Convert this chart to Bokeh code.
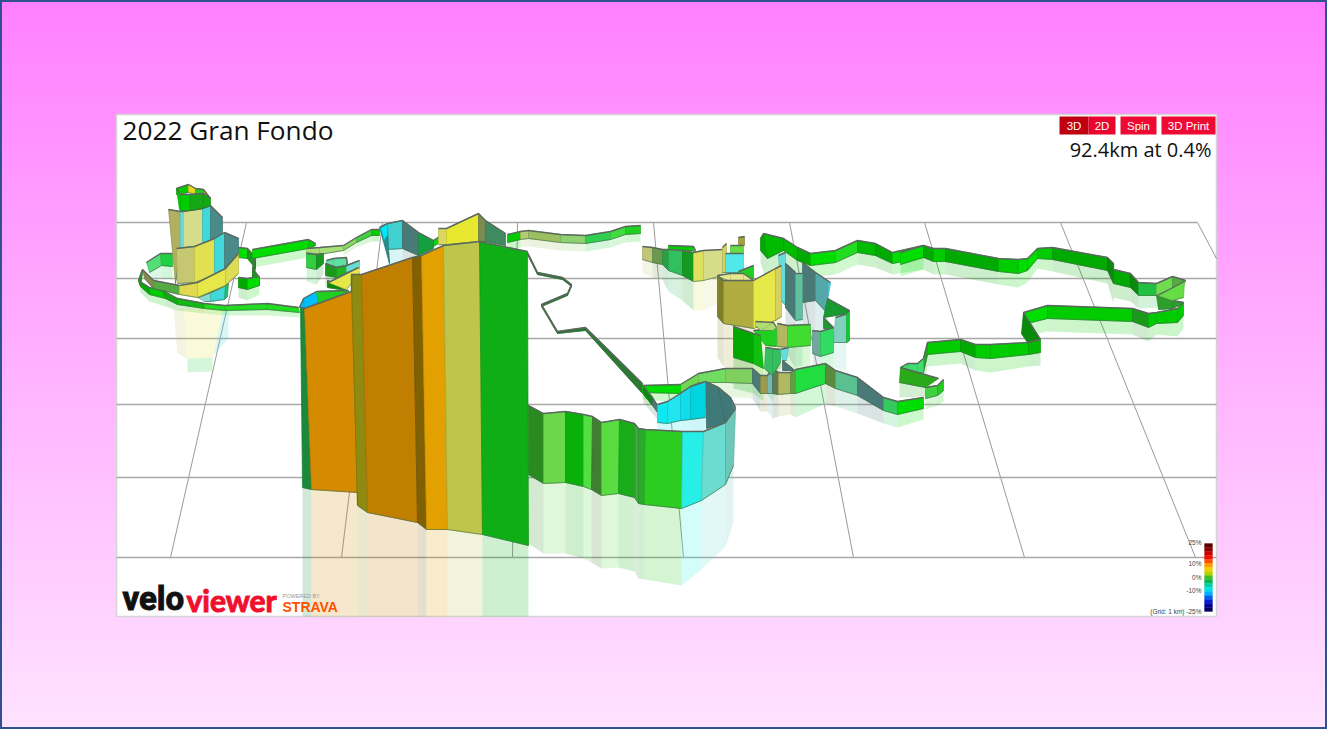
from bokeh.plotting import figure
from bokeh.embed import file_html
from bokeh.resources import INLINE
from bokeh.core.properties import value

TITLE = "2022 Gran Fondo"
READOUT = "92.4km at 0.4%"
BUTTONS = ["3D", "2D", "Spin", "3D Print"]
LEGEND_LABELS = ["25%", "10%", "0%", "-10%", "(Grid: 1 km) -25%"]

# colours by gradient
GB, G, GD, GDD = "#00dd00", "#00cc00", "#00aa00", "#1a9a1a"
GL, GP, MINT, TEAL = "#5ad83a", "#a8e07a", "#3cc070", "#4a7a78"
TEALG, CY, CYL, CYP = "#408a60", "#18e8ee", "#66ddd0", "#55a8a8"
YE, YEP, KH, OL = "#e6e84a", "#d5dd8a", "#bec54a", "#8f8a10"
OR, ORD, BR, AM = "#d48b00", "#c07f00", "#806000", "#e2a100"

# grid of the 3D floor
grid_y = [222, 278, 338, 404, 477, 557]
grid_x0 = [116, 116, 116, 116, 116, 116]
grid_x1 = [1197, 1216, 1216, 1216, 1216, 1216]
slant_x_top = [246, 382, 517, 653, 789, 924, 1060, 1197]
slant_y_top = [222, 222, 222, 222, 222, 222, 222, 222]
slant_x_bot = [170, 341, 512, 683, 853, 1024, 1195, 1216]
slant_y_bot = [557, 557, 557, 557, 557, 557, 557, 258]

# ---- ribbon sections of the route: top edge, bottom edge, panel colours ----
up_x = [760, 763, 783, 797, 810, 835, 857, 875, 892, 923]
up_t = [238, 233, 238, 247, 253, 250, 240, 243, 252, 245]
up_bx = [760, 767, 783, 797, 810, 835, 857, 875, 892, 923]
up_b = [250, 258, 250, 260, 265, 262, 252, 255, 263, 257]
up_c = [GD, "#00bb00", "#00bb00", GD, GB, "#20dd20", "#00bb00", GD, GB]

far_x = [900, 923, 933, 945, 998, 1018, 1027, 1037, 1052, 1107]
far_t = [252, 245, 248, 248, 258, 259, 258, 248, 247, 257]
far_b = [264, 257, 261, 261, 271, 273, 270, 258, 259, 270]
far_c = [GB, GD, G, GD, G, GB, GB, G, GD]

end_x = [1107, 1113, 1113, 1130, 1138, 1156, 1172, 1185]
end_t = [257, 263, 269, 273, 282, 283, 276, 280]
end_b = [270, 283, 283, 287, 295, 295, 288, 281]
end_c = ["#0a8a0a", GD, GD, "#0a8a0a", "#20c040", "#70dd50", "#55aa44"]

wedge_x = [1157, 1184]
wedge_t = [295, 281]
wedge_bx = [1172, 1183]
wedge_b = [300, 297]
wedge_c = ["#66dd44"]

fold_x = [1156, 1172, 1183]
fold_t = [295, 300, 302]
fold_bx = [1158, 1172, 1183]
fold_b = [309, 308, 303]
fold_c = ["#2aa02a", "#2aa02a"]

ret_x = [1023, 1047, 1132, 1148, 1156, 1177, 1183]
ret_t = [312, 305, 308, 313, 312, 308, 302]
ret_b = [324, 318, 321, 327, 323, 322, 315]
ret_c = [GB, G, GDD, G, G, G]

drop_x = [1023, 1040]
drop_t = [312, 339]
drop_bx = [1021, 1027]
drop_b = [333, 342]
drop_c = ["#0a8a0a"]

low_x = [923, 927, 960, 975, 990, 1028, 1040]
low_t = [358, 342, 339, 344, 344, 342, 339]
low_b = [372, 354, 351, 357, 358, 354, 352]
low_c = ["#22aa22", G, GD, G, G, "#00bb00"]

sm_x = [900, 907, 917, 923]
sm_t = [367, 363, 363, 358]
sm_b = [368, 370, 372, 372]
sm_c = ["#3fdd6f", "#3fdd6f", "#3fdd6f"]

fld_x = [900, 938]
fld_t = [367, 378]
fld_bx = [899, 925]
fld_b = [382, 387]
fld_c = ["#2aaa1a"]

fl2_x = [925, 937, 943]
fl2_t = [387, 385, 379]
fl2_b = [398, 395, 390]
fl2_c = ["#40d040", "#20cc20"]

# centre cluster
cb_x = [642, 652, 662, 668, 682, 693, 703, 722]
cb_t = [246, 247, 249, 249, 250, 252, 250, 249]
cb_b = [259, 262, 264, 270, 275, 281, 280, 275]
cb_c = ["#c0c878", "#6a9a50", "#2aa040", "#30c060", "#159a20", "#e0e060", YEP]

cap2_x = [668, 693, 695]
cap2_t = [245, 246, 250]
cap2_b = [250, 250, 258]
cap2_c = [G, "#60c060"]

pale_x = [722, 726]
pale_t = [247, 243]
pale_b = [272, 272]
pale_c = ["#d5d060"]

cy2_x = [725, 743]
cy2_t = [253, 253]
cy2_b = [272, 272]
cy2_c = ["#50e8e8"]

hook_x = [738, 744]
hook_t = [237, 236]
hook_b = [245, 245]
hook_c = ["#a0a040"]

gr2_x = [730, 743]
gr2_t = [245, 245]
gr2_b = [253, 253]
gr2_c = ["#66dd44"]

gr3_x = [738, 753]
gr3_t = [271, 265]
gr3_b = [278, 278]
gr3_c = ["#20d020"]

rim_x = [717, 730, 743, 753]
rim_t = [275, 273, 273, 280]
rim_b = [276, 281, 281, 281]
rim_c = ["#e6e890", "#e6e890", "#e6e890"]

tA_x = [778, 785]
tA_t = [255, 252]
tA_bx = [781, 785]
tA_b = [300, 305]
tA_c = ["#66dddd"]

tB_x = [785, 795]
tB_t = [263, 272]
tB_b = [307, 320]
tB_c = [TEAL]

tC_x = [795, 802]
tC_t = [273, 273]
tC_b = [320, 319]
tC_c = ["#60c0a0"]

tD_x = [802, 815, 827, 830]
tD_t = [262, 272, 280, 282]
tD_bx = [802, 815, 827, 827]
tD_b = [302, 300, 313, 300]
tD_c = [TEAL, CYP, "#40c8d8"]

grr_x = [827, 849]
grr_t = [298, 310]
grr_bx = [823, 848]
grr_b = [317, 313]
grr_c = ["#189a30"]

mint_x = [835, 848]
mint_t = [317, 313]
mint_bx = [833, 846]
mint_b = [342, 342]
mint_c = ["#80d0c0"]

edge_x = [846, 849]
edge_t = [313, 310]
edge_b = [342, 340]
edge_c = ["#10cc30"]

yel_x = [717, 723, 753, 775, 781]
yel_t = [275, 280, 280, 268, 265]
yel_b = [316, 323, 328, 320, 316]
yel_c = ["#807f28", "#b0ac40", YE, "#d5d060"]

mid_x = [812, 820, 833]
mid_t = [330, 331, 327]
mid_b = [353, 356, 352]
mid_c = ["#70a8a0", "#30dd60"]

dk_x = [823, 833]
dk_t = [317, 327]
dk_b = [328, 328]
dk_c = ["#189a30"]

row_x = [777, 787, 810]
row_t = [323, 325, 324]
row_b = [346, 347, 345]
row_c = ["#b0b860", "#40dd30"]

ring_x = [755, 773, 776]
ring_t = [321, 322, 327]
ring_bx = [755, 760, 772]
ring_b = [325, 330, 330]
ring_c = ["#b0dd70", "#b0dd70"]

rg_x = [753, 776]
rg_t = [330, 328]
rg_bx = [765, 776]
rg_b = [345, 346]
rg_c = ["#20d020"]

gb_x = [733, 753, 760]
gb_t = [326, 333, 335]
gb_bx = [733, 753, 763]
gb_b = [357, 363, 368]
gb_c = ["#00a800", "#10c010"]

gt_x = [765, 772, 780]
gt_t = [347, 348, 349]
gt_bx = [764, 772, 780]
gt_b = [368, 375, 362]
gt_c = ["#33c060", "#33c060"]

cc_x = [780, 788]
cc_t = [349, 347]
cc_bx = [782, 786]
cc_b = [360, 360]
cc_c = ["#66dddd"]

ct_x = [782, 793]
ct_t = [360, 369]
ct_bx = [782, 793]
ct_b = [370, 370]
ct_c = [TEAL]

arc_x = [680, 698, 725, 752, 760, 767, 772, 778, 790, 795, 825, 835, 857, 883, 897, 923]
arc_t = [384, 373, 368, 368, 375, 375, 368, 372, 372, 369, 363, 370, 377, 397, 401, 397]
arc_b = [392, 382, 382, 383, 393, 393, 393, 394, 393, 393, 383, 388, 395, 410, 414, 408]
arc_c = ["#70d850", "#70dd60", "#80d060", TEAL, "#9a9a50", "#70b8b0", "#607a50", "#b0b860",
         "#60a040", "#20dd40", "#5a8a40", "#5ac090", TEAL, "#38c860", GB]

# connecting path
thin_x = [527, 537, 562, 571, 567, 541, 557, 585, 642]
thin_t = [252, 272, 277, 284, 293, 304, 331, 327, 383]
thin_b = [254, 274, 279, 286, 295, 306, 333, 330, 393]
thin_c = ["#2a7a30"] * 8

tr_x = [507, 520, 528, 560, 585, 610, 625, 640]
tr_t = [234, 231, 230, 234, 235, 231, 226, 225]
tr_b = [242, 239, 238, 242, 243, 239, 234, 233]
tr_c = [G, "#b4cc70", "#9cc060", "#8fd070", "#2fd04f", "#40dd40", "#20d020"]

bar_x = [642, 680]
bar_t = [385, 384]
bar_b = [392, 393]
bar_c = [GB]

dia_x = [643, 652, 657]
dia_t = [386, 397, 405]
dia_b = [394, 405, 412]
dia_c = ["#0a8a0a", TEAL]

# cyan bowl
bw_x = [657, 667, 680, 690, 705]
bw_t = [404, 401, 393, 386, 381]
bw_b = [422, 423, 420, 419, 417]
bw_c = ["#10e8f0", "#20e4f0", "#10dcec", "#00d4e0"]

bt_x = [705, 718, 730, 735]
bt_t = [381, 387, 397, 407]
bt_bx = [706, 725, 733, 735]
bt_b = [428, 422, 412, 408]
bt_c = ["#3f7a78", "#3f7a78", "#4a8a88"]

# front ribbon right of the wall
fr_x = [528, 543, 565, 583, 592, 601, 619, 634, 638, 645, 682, 703, 725, 735]
fr_t = [405, 413, 411, 414, 416, 422, 419, 423, 428, 429, 431, 431, 422, 408]
fr_bx = [528, 543, 565, 583, 591, 601, 618, 634, 638, 644, 681, 701, 725, 733]
fr_b = [474, 483, 482, 486, 489, 495, 493, 497, 503, 504, 508, 500, 484, 465]
fr_c = ["#2a8a20", "#6ad84a", "#0ab00a", "#55dd44", "#3f8030", "#5add40", "#18ad18", "#3aaa3a",
        "#2aaa2a", "#2dcc20", "#28eee8", "#6addd0", "#6cc8b8"]

# left loop and tower
lp_x = [146, 160, 172]
lp_t = [262, 253, 253]
lp_bx = [149, 161, 172]
lp_b = [272, 265, 266]
lp_c = ["#55dd77", "#20d040"]

rt_x = [238, 247, 255, 252, 259]
rt_t = [247, 248, 257, 268, 277]
rt_b = [257, 258, 268, 278, 285]
rt_c = [GB, GDD, GDD, GDD]

rf_x = [238, 247, 259]
rf_t = [277, 278, 276]
rf_b = [287, 289, 285]
rf_c = [GD, GB]

st_x = [252, 308, 315]
st_t = [249, 239, 243]
st_b = [258, 248, 245]
st_c = [GB, G]

pl_x = [306, 319, 343]
pl_t = [248, 247, 245]
pl_b = [252, 254, 250]
pl_c = [GP, GP]

pg_x = [306, 316, 323]
pg_t = [253, 254, 253]
pg_b = [267, 269, 263]
pg_c = ["#2fcf3f", "#159a1f"]

pm_x = [326, 333, 346, 347]
pm_t = [260, 258, 257, 265]
pm_b = [267, 267, 265, 265]
pm_c = ["#60e0a0", "#60e0a0", "#60e0a0"]

blk_x = [325, 336, 346, 359]
blk_t = [263, 267, 265, 260]
blk_b = [275, 277, 272, 268]
blk_c = [GDD, "#1fb51f", CYL]

wg_x = [327, 346]
wg_t = [280, 289]
wg_b = [287, 290]
wg_c = ["#0a8a0a"]

wy_x = [328, 358]
wy_t = [282, 267]
wy_bx = [346, 359]
wy_b = [289, 273]
wy_c = [YE]

ar_x = [343, 356, 371, 379]
ar_t = [245, 237, 229, 229]
ar_b = [250, 242, 235, 235]
ar_c = ["#88d860", "#40d040", G]

ct1_x = [379, 387]
ct1_t = [227, 223]
ct1_bx = [389, 388]
ct1_b = [263, 250]
ct1_c = ["#2a8a90"]

ct2_x = [380, 387]
ct2_t = [227, 223]
ct2_bx = [384, 387]
ct2_b = [240, 235]
ct2_c = ["#00e8f8"]

ct3_x = [387, 402, 418, 433]
ct3_t = [223, 220, 232, 240]
ct3_b = [249, 248, 255, 248]
ct3_c = ["#40d0d0", TEAL, "#15a040"]

yb_x = [433, 439]
yb_t = [240, 236]
yb_b = [246, 242]
yb_c = [GB]

yw_x = [438, 446, 478, 485, 505]
yw_t = [228, 228, 213, 220, 233]
yw_b = [244, 244, 241, 241, 245]
yw_c = ["#d8d860", "#e8e830", "#7a8a50", TEALG]

# tower
cpb_x = [176, 188, 195, 203, 210]
cpb_t = [188, 184, 188, 189, 198]
cpb_b = [194, 192, 194, 193, 198]
cpb_c = [G, "#e6d820", "#20cc20", "#c0a020"]

cpf_x = [176, 180, 189, 203, 210]
cpf_t = [188, 194, 194, 193, 198]
cpf_bx = [179, 180, 190, 202, 210]
cpf_b = [209, 210, 210, 208, 205]
cpf_c = [G, G, "#15a815", "#15a815"]

ub_x = [168, 180, 183, 202, 210, 222]
ub_t = [209, 211, 211, 208, 205, 217]
ub_bx = [175, 180, 183, 202, 210, 222]
ub_b = [283, 247, 247, 245, 240, 233]
ub_c = ["#b0b060", "#66dddd", YEP, "#40d8d8", "#4a8a88"]

mb_x = [176, 194, 214, 224, 238]
mb_t = [248, 246, 238, 232, 238]
mb_bx = [177, 194, 214, 224, 238]
mb_b = [283, 282, 275, 268, 253]
mb_c = ["#c5c870", "#e0e050", "#40d8d8", "#4a8a88"]

lc_x = [197, 210, 225, 228]
lc_t = [297, 292, 285, 283]
lc_bx = [204, 210, 224, 227]
lc_b = [301, 301, 299, 296]
lc_c = ["#88d8d0", "#40d8d8", "#20c070"]

ol_x = [142, 138, 149, 162]
ol_t = [269, 280, 287, 290]
ol_bx = [142, 140, 149, 165]
ol_b = [271, 286, 294, 298]
ol_c = [GD, GD, G]

kl_x = [142, 153]
kl_t = [269, 280]
kl_bx = [144, 153]
kl_b = [278, 288]
kl_c = ["#8a8a50"]

pn_x = [153, 179]
pn_t = [280, 285]
pn_bx = [153, 179]
pn_b = [288, 294]
pn_c = ["#55aa44"]

fb_x = [179, 197, 225, 238]
fb_t = [285, 282, 268, 253]
fb_b = [294, 297, 285, 273]
fb_c = ["#e0d850", YE, "#dddd55"]

gp_x = [162, 177, 204, 224, 267, 298]
gp_t = [290, 298, 303, 305, 303, 307]
gp_bx = [165, 177, 204, 224, 267, 299]
gp_b = [298, 304, 308, 310, 309, 312]
gp_c = ["#10aa10", "#10bb10", "#20dd20", "#20dd20", "#20dd20"]

# big wall
wc_x = [299, 303, 316]
wc_t = [307, 298, 291]
wc_bx = [304, 304, 318]
wc_b = [307, 308, 302]
wc_c = ["#00bfff", "#00bfff"]

wg2_x = [316, 348]
wg2_t = [291, 290]
wg2_bx = [318, 348]
wg2_b = [303, 291]
wg2_c = ["#20d020"]

wl_x = [300, 304, 351, 351, 361, 412, 421, 443, 479, 527]
wl_t = [307, 308, 291, 274, 274, 257, 255, 245, 241, 251]
wl_bx = [302, 311, 357, 357, 367, 417, 426, 447, 482, 528]
wl_b = [487, 489, 492, 505, 512, 522, 529, 529, 534, 545]
wl_c = ["#1a8a3a", OR, "#d48b00", OL, ORD, BR, AM, KH, "#0fae17"]

# explicit reflection of the tower
twr_x = [173, 183, 202, 223, 228]
twr_t = [308, 308, 308, 308, 308]
twr_bx = [177, 187, 212, 213, 228]
twr_b = [353, 358, 357, 355, 338]
twr_c = ["#c5c870", YE, YE, "#40d8d8"]
twb_x = [187, 212]
twb_t = [358, 357]
twb_bx = [187, 212]
twb_b = [372, 371]
twb_c = ["#30d050"]

# (top x, top y, bottom x, bottom y, colours, has reflection), back to front
SECTIONS = [
    (up_x, up_t, up_bx, up_b, up_c, True), (far_x, far_t, far_x, far_b, far_c, True),
    (end_x, end_t, end_x, end_b, end_c, True), (ret_x, ret_t, ret_x, ret_b, ret_c, True),
    (fold_x, fold_t, fold_bx, fold_b, fold_c, False), (wedge_x, wedge_t, wedge_bx, wedge_b, wedge_c, False),
    (drop_x, drop_t, drop_bx, drop_b, drop_c, False),
    (low_x, low_t, low_x, low_b, low_c, True), (sm_x, sm_t, sm_x, sm_b, sm_c, False),
    (fl2_x, fl2_t, fl2_x, fl2_b, fl2_c, True), (fld_x, fld_t, fld_bx, fld_b, fld_c, True),
    (cap2_x, cap2_t, cap2_x, cap2_b, cap2_c, False), (cb_x, cb_t, cb_x, cb_b, cb_c, True),
    (hook_x, hook_t, hook_x, hook_b, hook_c, False), (pale_x, pale_t, pale_x, pale_b, pale_c, False),
    (gr2_x, gr2_t, gr2_x, gr2_b, gr2_c, False),
    (cy2_x, cy2_t, cy2_x, cy2_b, cy2_c, False), (gr3_x, gr3_t, gr3_x, gr3_b, gr3_c, False),
    (tA_x, tA_t, tA_bx, tA_b, tA_c, False), (tD_x, tD_t, tD_bx, tD_b, tD_c, True),
    (tB_x, tB_t, tB_x, tB_b, tB_c, True), (tC_x, tC_t, tC_x, tC_b, tC_c, True),
    (grr_x, grr_t, grr_bx, grr_b, grr_c, False), (mint_x, mint_t, mint_bx, mint_b, mint_c, True),
    (edge_x, edge_t, edge_x, edge_b, edge_c, False), (rim_x, rim_t, rim_x, rim_b, rim_c, False),
    (yel_x, yel_t, yel_x, yel_b, yel_c, True), (dk_x, dk_t, dk_x, dk_b, dk_c, False),
    (mid_x, mid_t, mid_x, mid_b, mid_c, True), (arc_x, arc_t, arc_x, arc_b, arc_c, True),
    (row_x, row_t, row_x, row_b, row_c, True), (rg_x, rg_t, rg_bx, rg_b, rg_c, False),
    (ring_x, ring_t, ring_bx, ring_b, ring_c, False), (gb_x, gb_t, gb_bx, gb_b, gb_c, True),
    (gt_x, gt_t, gt_bx, gt_b, gt_c, True), (cc_x, cc_t, cc_bx, cc_b, cc_c, False),
    (ct_x, ct_t, ct_bx, ct_b, ct_c, False),
    (thin_x, thin_t, thin_x, thin_b, thin_c, False), (tr_x, tr_t, tr_x, tr_b, tr_c, True),
    (bar_x, bar_t, bar_x, bar_b, bar_c, True), (dia_x, dia_t, dia_x, dia_b, dia_c, True),
    (bt_x, bt_t, bt_bx, bt_b, bt_c, False), (bw_x, bw_t, bw_x, bw_b, bw_c, True),
    (fr_x, fr_t, fr_bx, fr_b, fr_c, True),
    (lp_x, lp_t, lp_bx, lp_b, lp_c, True), (rt_x, rt_t, rt_x, rt_b, rt_c, False),
    (rf_x, rf_t, rf_x, rf_b, rf_c, True), (st_x, st_t, st_x, st_b, st_c, True),
    (pl_x, pl_t, pl_x, pl_b, pl_c, False), (pg_x, pg_t, pg_x, pg_b, pg_c, True),
    (pm_x, pm_t, pm_x, pm_b, pm_c, False), (blk_x, blk_t, blk_x, blk_b, blk_c, True),
    (wg_x, wg_t, wg_x, wg_b, wg_c, False), (wy_x, wy_t, wy_bx, wy_b, wy_c, False),
    (ar_x, ar_t, ar_x, ar_b, ar_c, True), (yb_x, yb_t, yb_x, yb_b, yb_c, False),
    (ct3_x, ct3_t, ct3_x, ct3_b, ct3_c, True), (ct1_x, ct1_t, ct1_bx, ct1_b, ct1_c, False),
    (ct2_x, ct2_t, ct2_bx, ct2_b, ct2_c, False), (yw_x, yw_t, yw_x, yw_b, yw_c, False),
    (cpb_x, cpb_t, cpb_x, cpb_b, cpb_c, False), (ub_x, ub_t, ub_bx, ub_b, ub_c, False),
    (cpf_x, cpf_t, cpf_bx, cpf_b, cpf_c, False), (mb_x, mb_t, mb_bx, mb_b, mb_c, False),
    (ol_x, ol_t, ol_bx, ol_b, ol_c, True), (lc_x, lc_t, lc_bx, lc_b, lc_c, False),
    (kl_x, kl_t, kl_bx, kl_b, kl_c, False), (pn_x, pn_t, pn_bx, pn_b, pn_c, False),
    (fb_x, fb_t, fb_x, fb_b, fb_c, False), (gp_x, gp_t, gp_bx, gp_b, gp_c, True),
    (wc_x, wc_t, wc_bx, wc_b, wc_c, False), (wg2_x, wg2_t, wg2_bx, wg2_b, wg2_c, False),
    (wl_x, wl_t, wl_bx, wl_b, wl_c, True),
]

colourbar_stops = ["#5a0000", "#8a0000", "#c80000", "#f01000", "#ff5000", "#ff9a00", "#f0d000", "#b8d000",
                   "#40c020", "#00b850", "#00d0a0", "#00e0e0", "#00b0ff", "#0060f0", "#0020d0", "#0000a0", "#000060"]

FLOOR = 616


def darker(c, k=0.85):
    r, g, b = int(c[1:3], 16), int(c[3:5], 16), int(c[5:7], 16)
    return "#%02x%02x%02x" % (int(r * k), int(g * k), int(b * k))


p = figure(width=1311, height=713, x_range=(8, 1319), y_range=(721, 8), output_backend="svg",
           toolbar_location=None, min_border=0, outline_line_color=None,
           background_fill_color=None, border_fill_color=None)
p.axis.visible = False
p.grid.visible = False

# white panel
p.quad(left=[116], right=[1216], top=[114], bottom=[616], fill_color="white",
       line_color="#d4d4d4", line_width=1.5)

# floor grid
p.segment(slant_x_top, slant_y_top, slant_x_bot, slant_y_bot, line_color="#9a9a9a", line_width=1)
p.segment(grid_x0, grid_y, grid_x1, grid_y, line_color="#a8a8a8", line_width=1.6)

# reflections
rx, ry, rc = [], [], []
for tx, ty, bx, by, cols, refl in SECTIONS:
    if not refl:
        continue
    for i, c in enumerate(cols):
        h0, h1 = by[i] - ty[i], by[i + 1] - ty[i + 1]
        rx.append([bx[i], bx[i + 1], bx[i + 1], bx[i]])
        ry.append([by[i], by[i + 1], min(by[i + 1] + h1, FLOOR), min(by[i] + h0, FLOOR)])
        rc.append(c)
for xa, ya, xb, yb, cols in [(twr_x, twr_t, twr_bx, twr_b, twr_c), (twb_x, twb_t, twb_bx, twb_b, twb_c)]:
    for i, c in enumerate(cols):
        rx.append([xa[i], xa[i + 1], xb[i + 1], xb[i]])
        ry.append([ya[i], ya[i + 1], yb[i + 1], yb[i]])
        rc.append(c)
p.patches(xs=rx, ys=ry, fill_color=rc, fill_alpha=0.2, line_color=None)

# walls, painted back to front
for tx, ty, bx, by, cols, refl in SECTIONS:
    xs, ys, cc, ec = [], [], [], []
    for i, c in enumerate(cols):
        xs.append([tx[i], tx[i + 1], bx[i + 1], bx[i]])
        ys.append([ty[i], ty[i + 1], by[i + 1], by[i]])
        cc.append(c)
        ec.append(darker(c))
    p.patches(xs=xs, ys=ys, fill_color=cc, line_color=ec, line_width=0.7)
    p.line(bx, by, line_color="#3f6f4a", line_width=0.8, line_alpha=0.7)
    p.line(tx, ty, line_color="#5c685f", line_width=1.4)

# title and readout
p.text([122], [129.5], text=[TITLE], text_font=value("Open Sans"), text_font_size="26.2px",
       text_color="#111111", text_align="left", text_baseline="middle")
p.text([1211], [149], text=[READOUT], text_font=value("Open Sans"), text_font_size="20px",
       text_color="#111111", text_align="right", text_baseline="middle")

# buttons
btn_l = [1059, 1088, 1120, 1161]
btn_r = [1088, 1115, 1156, 1215]
btn_c = ["#c00010", "#e8062f", "#ee0a33", "#ee0a33"]
p.quad(left=btn_l, right=btn_r, top=[116] * 4, bottom=[134] * 4, fill_color=btn_c, line_color=None)
p.text([(a + b) / 2 for a, b in zip(btn_l, btn_r)], [125] * 4, text=BUTTONS,
       text_font=value("Liberation Sans"), text_font_size="11.5px", text_color="white",
       text_align="center", text_baseline="middle")

# colour bar
n = len(colourbar_stops)
bar_top, bar_bot = 543, 611
edges = [bar_top + (bar_bot - bar_top) * i / n for i in range(n + 1)]
p.quad(left=[1204] * n, right=[1212] * n, top=edges[:-1], bottom=edges[1:],
       fill_color=colourbar_stops, line_color=colourbar_stops, line_width=0.3)
p.text([1201] * 5, [542, 563, 577, 590, 611], text=LEGEND_LABELS, text_font=value("Liberation Sans"),
       text_font_size="6.5px", text_color="#444444", text_align="right", text_baseline="middle")

# logos
p.text([122], [598], text=["velo"], text_font=value("Roboto"), text_font_style="bold",
       text_font_size="33px", text_color="#111111", text_outline_color="#111111",
       text_align="left", text_baseline="middle")
p.text([186], [599], text=["viewer"], text_font=value("Lato"), text_font_style="bold",
       text_font_size="30px", text_color="#f0102e", text_outline_color="#f0102e",
       text_align="left", text_baseline="middle")
p.text([282], [595], text=["POWERED BY"], text_font=value("Liberation Sans"), text_font_size="5.5px",
       text_color="#999999", text_align="left", text_baseline="middle")
p.text([282], [606], text=["STRAVA"], text_font=value("Liberation Sans"), text_font_style="bold",
       text_font_size="14px", text_color="#fc5200", text_align="left", text_baseline="middle")

html = file_html(p, INLINE, title=TITLE)
page_css = ("<style>html{height:100%;box-sizing:border-box;border:2px solid #2f528f;overflow:hidden;"
            "background:linear-gradient(#ff80ff,#ffe2ff)}body{margin:6px;background:transparent}</style>")
html = html.replace("</head>", page_css + "</head>", 1)
open("out.html", "w").write(html)
